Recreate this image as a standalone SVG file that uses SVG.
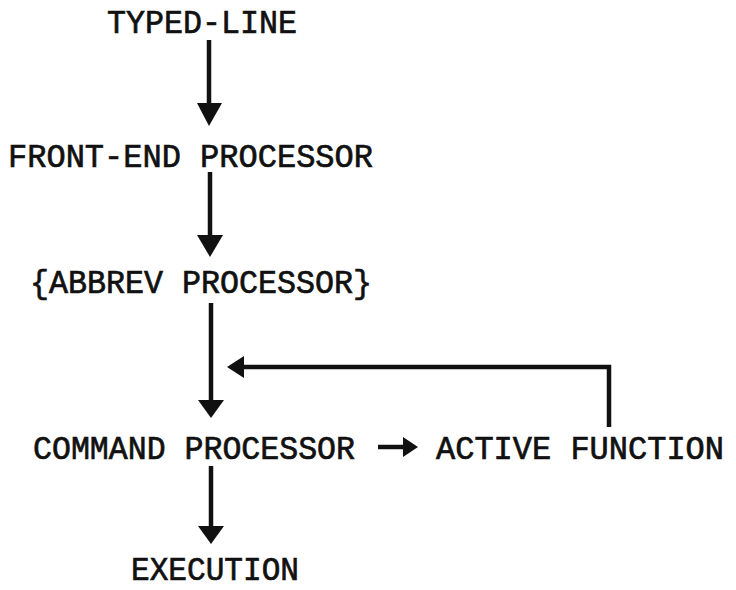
<svg xmlns="http://www.w3.org/2000/svg" width="736" height="590" viewBox="0 0 736 590">
<defs>
<style>
.t{font-family:"Liberation Mono","Courier New",monospace;font-size:34px;fill:#111;stroke:#111;stroke-width:0.7}
.l{stroke:#111;stroke-width:4.5;fill:none}
.h{fill:#111}
</style>
</defs>
<rect width="736" height="590" fill="#fff"/>
<g id="typed-line"><text class="t" x="107" y="33" textLength="190" lengthAdjust="spacingAndGlyphs">TYPED-LINE</text></g>
<g id="front-end"><text class="t" x="8" y="167" textLength="365" lengthAdjust="spacingAndGlyphs">FRONT-END PROCESSOR</text></g>
<g id="abbrev"><text class="t" x="30" y="293" textLength="342" lengthAdjust="spacingAndGlyphs">{ABBREV PROCESSOR}</text></g>
<g id="command"><text class="t" x="33" y="459" textLength="322" lengthAdjust="spacingAndGlyphs">COMMAND PROCESSOR</text></g>
<g id="active"><text class="t" x="436" y="459" textLength="288" lengthAdjust="spacingAndGlyphs" style="font-size:32.5px">ACTIVE FUNCTION</text></g>
<g id="execution"><text class="t" x="131" y="580" textLength="168" lengthAdjust="spacingAndGlyphs" style="font-size:33px">EXECUTION</text></g>
<g id="connectors">
<line class="l" x1="209" y1="40" x2="209" y2="108"/>
<polygon class="h" points="197,103 222,103 209,126"/>
<line class="l" x1="210" y1="172" x2="210" y2="240"/>
<polygon class="h" points="197,235 223,235 210,257"/>
<line class="l" x1="211" y1="303" x2="211" y2="404"/>
<polygon class="h" points="198,400 224,400 211,418"/>
<polyline class="l" points="240,367 609,367 609,427"/>
<polygon class="h" points="227,367 244,356 244,378"/>
<line class="l" x1="378" y1="447" x2="406" y2="447"/>
<polygon class="h" points="403,437 418,447 403,457"/>
<line class="l" x1="211" y1="466" x2="211" y2="530"/>
<polygon class="h" points="198,526 224,526 211,544"/>
</g>
</svg>
